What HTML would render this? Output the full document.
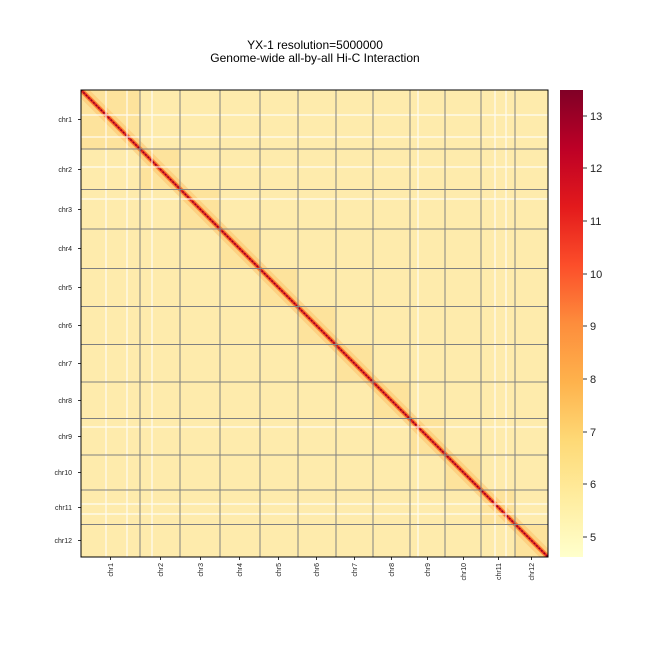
<!DOCTYPE html>
<html><head><meta charset="utf-8"><style>
html,body{margin:0;padding:0;background:#fff;}
svg{display:block;font-family:"Liberation Sans","DejaVu Sans",sans-serif;}
</style></head><body>
<svg width="648" height="648" viewBox="0 0 648 648" xmlns="http://www.w3.org/2000/svg">
<defs>
<linearGradient id="cb" x1="0" y1="1" x2="0" y2="0">
<stop offset="0" stop-color="#ffffcc"/><stop offset="0.125" stop-color="#ffeda0"/>
<stop offset="0.25" stop-color="#fed976"/><stop offset="0.375" stop-color="#feb24c"/>
<stop offset="0.5" stop-color="#fd8d3c"/><stop offset="0.625" stop-color="#fc4e2a"/>
<stop offset="0.75" stop-color="#e31a1c"/><stop offset="0.875" stop-color="#bd0026"/>
<stop offset="1" stop-color="#800026"/>
</linearGradient>
<clipPath id="mc"><rect x="81" y="90" width="467" height="467"/></clipPath>
</defs>
<text x="315" y="49" font-size="12" text-anchor="middle">YX-1 resolution=5000000</text>
<text x="315" y="62" font-size="12" text-anchor="middle">Genome-wide all-by-all Hi-C Interaction</text>
<g clip-path="url(#mc)">
<rect x="81" y="90" width="467" height="467" fill="#feebac"/>
<g fill="#fde39c">
<rect x="81" y="90" width="59" height="59"/><rect x="140" y="149" width="40" height="40"/>
<rect x="180" y="189" width="40" height="40"/><rect x="220" y="229" width="40" height="40"/>
<rect x="260" y="269" width="38" height="38"/><rect x="298" y="307" width="38" height="38"/>
<rect x="336" y="345" width="37" height="37"/><rect x="373" y="382" width="37" height="37"/>
<rect x="410" y="419" width="35" height="35"/><rect x="445" y="454" width="36" height="36"/>
<rect x="481" y="490" width="34" height="34"/><rect x="515" y="524" width="33" height="33"/>
</g>
<line x1="81" y1="90" x2="548" y2="557" stroke="#fdc068" stroke-width="12" opacity="0.5"/>
<line x1="81" y1="90" x2="548" y2="557" stroke="#fc8d3c" stroke-width="5"/>
<line x1="81" y1="90" x2="548" y2="557" stroke="#e0281e" stroke-width="2.5"/>
<line x1="81" y1="90" x2="548" y2="557" stroke="#900026" stroke-width="1.5" stroke-dasharray="1.5 2"/>
<g stroke="#fff" stroke-width="1.2" opacity="0.85">
<line x1="106" y1="90" x2="106" y2="557"/><line x1="127" y1="90" x2="127" y2="557"/>
<line x1="152" y1="90" x2="152" y2="557"/><line x1="418" y1="90" x2="418" y2="557"/>
<line x1="495" y1="90" x2="495" y2="557"/><line x1="506" y1="90" x2="506" y2="557"/>
<line x1="81" y1="115" x2="548" y2="115"/><line x1="81" y1="137" x2="548" y2="137"/>
<line x1="81" y1="167" x2="548" y2="167"/><line x1="81" y1="199" x2="548" y2="199"/>
<line x1="81" y1="427" x2="548" y2="427"/><line x1="81" y1="504" x2="548" y2="504"/>
<line x1="81" y1="514" x2="548" y2="514"/>
</g>
<g stroke="#808080" stroke-width="1">
<line x1="140" y1="90" x2="140" y2="557"/><line x1="180" y1="90" x2="180" y2="557"/>
<line x1="220" y1="90" x2="220" y2="557"/><line x1="260" y1="90" x2="260" y2="557"/>
<line x1="298" y1="90" x2="298" y2="557"/><line x1="336" y1="90" x2="336" y2="557"/>
<line x1="373" y1="90" x2="373" y2="557"/><line x1="410" y1="90" x2="410" y2="557"/>
<line x1="445" y1="90" x2="445" y2="557"/><line x1="481" y1="90" x2="481" y2="557"/>
<line x1="515" y1="90" x2="515" y2="557"/>
<line x1="81" y1="149" x2="548" y2="149"/><line x1="81" y1="189.5" x2="548" y2="189.5"/>
<line x1="81" y1="229" x2="548" y2="229"/><line x1="81" y1="268.5" x2="548" y2="268.5"/>
<line x1="81" y1="306.5" x2="548" y2="306.5"/><line x1="81" y1="344.5" x2="548" y2="344.5"/>
<line x1="81" y1="382" x2="548" y2="382"/><line x1="81" y1="418.5" x2="548" y2="418.5"/>
<line x1="81" y1="455" x2="548" y2="455"/><line x1="81" y1="490" x2="548" y2="490"/>
<line x1="81" y1="524.5" x2="548" y2="524.5"/>
</g>
</g>
<rect x="81" y="90" width="467" height="467" fill="none" stroke="#000" stroke-width="1"/>
<g font-size="7" text-anchor="end" fill="#222">
<text x="72" y="122">chr1</text><text x="72" y="172">chr2</text><text x="72" y="212">chr3</text>
<text x="72" y="251">chr4</text><text x="72" y="290">chr5</text><text x="72" y="328">chr6</text>
<text x="72" y="366">chr7</text><text x="72" y="403">chr8</text><text x="72" y="439">chr9</text>
<text x="72" y="475">chr10</text><text x="72" y="510">chr11</text><text x="72" y="543">chr12</text>
</g>
<g stroke="#000" stroke-width="0.8">
<line x1="78" y1="119.5" x2="81" y2="119.5"/><line x1="78" y1="169.5" x2="81" y2="169.5"/>
<line x1="78" y1="209.5" x2="81" y2="209.5"/><line x1="78" y1="248.5" x2="81" y2="248.5"/>
<line x1="78" y1="287.5" x2="81" y2="287.5"/><line x1="78" y1="325.5" x2="81" y2="325.5"/>
<line x1="78" y1="363.5" x2="81" y2="363.5"/><line x1="78" y1="400.5" x2="81" y2="400.5"/>
<line x1="78" y1="436.5" x2="81" y2="436.5"/><line x1="78" y1="472.5" x2="81" y2="472.5"/>
<line x1="78" y1="507.5" x2="81" y2="507.5"/><line x1="78" y1="540.5" x2="81" y2="540.5"/>
<line x1="110.5" y1="557" x2="110.5" y2="560"/><line x1="160.5" y1="557" x2="160.5" y2="560"/>
<line x1="200.5" y1="557" x2="200.5" y2="560"/><line x1="239.5" y1="557" x2="239.5" y2="560"/>
<line x1="278.5" y1="557" x2="278.5" y2="560"/><line x1="316.5" y1="557" x2="316.5" y2="560"/>
<line x1="354.5" y1="557" x2="354.5" y2="560"/><line x1="391.5" y1="557" x2="391.5" y2="560"/>
<line x1="427.5" y1="557" x2="427.5" y2="560"/><line x1="463.5" y1="557" x2="463.5" y2="560"/>
<line x1="498.5" y1="557" x2="498.5" y2="560"/><line x1="531.5" y1="557" x2="531.5" y2="560"/>
</g>
<g font-size="7" text-anchor="end" fill="#222">
<text transform="translate(113,563) rotate(-90)">chr1</text>
<text transform="translate(163,563) rotate(-90)">chr2</text>
<text transform="translate(203,563) rotate(-90)">chr3</text>
<text transform="translate(242,563) rotate(-90)">chr4</text>
<text transform="translate(281,563) rotate(-90)">chr5</text>
<text transform="translate(319,563) rotate(-90)">chr6</text>
<text transform="translate(357,563) rotate(-90)">chr7</text>
<text transform="translate(394,563) rotate(-90)">chr8</text>
<text transform="translate(430,563) rotate(-90)">chr9</text>
<text transform="translate(466,563) rotate(-90)">chr10</text>
<text transform="translate(501,563) rotate(-90)">chr11</text>
<text transform="translate(534,563) rotate(-90)">chr12</text>
</g>
<rect x="560" y="90" width="23" height="467" fill="url(#cb)"/>
<g stroke="#000" stroke-width="0.8">
<line x1="583" y1="537" x2="587" y2="537"/><line x1="583" y1="484" x2="587" y2="484"/>
<line x1="583" y1="432" x2="587" y2="432"/><line x1="583" y1="379" x2="587" y2="379"/>
<line x1="583" y1="326" x2="587" y2="326"/><line x1="583" y1="274" x2="587" y2="274"/>
<line x1="583" y1="221" x2="587" y2="221"/><line x1="583" y1="168" x2="587" y2="168"/>
<line x1="583" y1="116" x2="587" y2="116"/>
</g>
<g font-size="11" fill="#222">
<text x="590" y="541">5</text><text x="590" y="488">6</text><text x="590" y="436">7</text>
<text x="590" y="383">8</text><text x="590" y="330">9</text><text x="590" y="278">10</text>
<text x="590" y="225">11</text><text x="590" y="172">12</text><text x="590" y="120">13</text>
</g>
</svg>
</body></html>
